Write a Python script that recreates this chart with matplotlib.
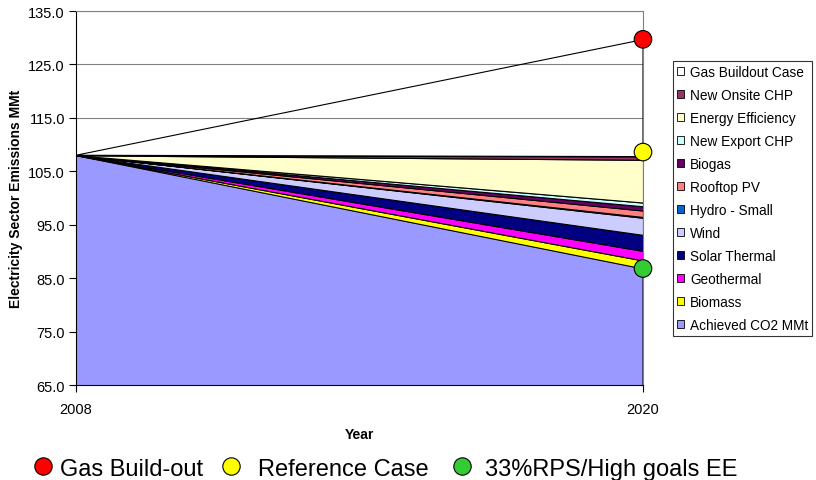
import matplotlib
matplotlib.use("Agg")
import matplotlib.pyplot as plt
from matplotlib.lines import Line2D
from matplotlib.patches import Patch

plt.rcParams['font.family'] = ['Liberation Sans', 'DejaVu Sans']

years = [2008, 2020]
# stacked layer increments (bottom to top) at 2008 and 2020
series_names = ["Achieved CO2 MMt", "Biomass", "Geothermal", "Solar Thermal", "Wind",
                "Hydro - Small", "Rooftop PV", "Biogas", "New Export CHP",
                "Energy Efficiency", "New Onsite CHP", "Gas Buildout Case"]
achieved = [108.0, 86.8]
biomass = [0.0, 1.5]
geothermal = [0.0, 1.8]
solar_thermal = [0.0, 3.0]
wind = [0.0, 3.2]
hydro_small = [0.0, 0.15]
rooftop_pv = [0.0, 1.2]
biogas = [0.0, 0.8]
new_export_chp = [0.0, 0.7]
energy_eff = [0.0, 8.0]
new_onsite_chp = [0.0, 0.6]
gas_buildout = [0.0, 21.9]

series_colors = ["#9999FF", "#FFFF00", "#FF00FF", "#000080", "#CCCCFF", "#0066CC",
                 "#FF8080", "#660066", "#CCFFFF", "#FFFFCC", "#993366", "#FFFFFF"]

scenario_names = ["Gas Build-out", "Reference Case", "33%RPS/High goals EE"]
scenario_values = [129.7, 108.6, 86.8]
scenario_colors = ["#FF0000", "#FFFF00", "#33CC33"]

y_ticks = [65.0, 75.0, 85.0, 95.0, 105.0, 115.0, 125.0, 135.0]

W, H = 816, 481
fig = plt.figure(figsize=(W/100, H/100), dpi=100)
ax = fig.add_axes([76/W, 1-386/H, (643-76)/W, (386-12)/H])

layers = [achieved, biomass, geothermal, solar_thermal, wind, hydro_small, rooftop_pv,
          biogas, new_export_chp, energy_eff, new_onsite_chp, gas_buildout]
polys = ax.stackplot(years, *layers, colors=series_colors, edgecolor="black",
                     linewidth=0.8, zorder=2)
polys[-1].set_facecolor("none")

ax.scatter([years[1]]*3, scenario_values, s=160, c=scenario_colors, edgecolors="black",
           linewidths=0.8, zorder=5, clip_on=False)

ax.set_xlim(2008, 2020)
ax.set_ylim(65, 135)
ax.set_yticks(y_ticks)
ax.set_yticklabels([f"{v:.1f}" for v in y_ticks], fontsize=10.5)
ax.set_xticks(years)
ax.set_xticklabels([str(y) for y in years], fontsize=10.5)
ax.tick_params(axis="x", length=5, width=0.8, pad=7)
ax.tick_params(axis="y", length=5, width=0.8, pad=3)
ax.yaxis.grid(True, color="#808080", linewidth=0.8, zorder=0)
ax.set_axisbelow(True)
for s in ["top", "right"]:
    ax.spines[s].set_color("#808080")
for s in ["left", "bottom"]:
    ax.spines[s].set_color("black")

ax.set_ylabel("Electricity Sector Emissions MMt", fontsize=10, fontweight="bold", labelpad=4)
ax.set_xlabel("Year", fontsize=10, fontweight="bold", labelpad=8)

handles = [Patch(facecolor=c, edgecolor="black", linewidth=0.6) for c in series_colors]
leg = fig.legend(handles[::-1], series_names[::-1], loc="upper left",
                 bbox_to_anchor=(673/W, 1-62/H), fontsize=9.8, frameon=True,
                 fancybox=False, edgecolor="black", handlelength=0.5, handleheight=0.5,
                 handletextpad=0.45, labelspacing=0.66, borderpad=0.3, borderaxespad=0)
leg.get_frame().set_linewidth(0.8)

# bottom scenario key
for name, col, cx, tx in zip(scenario_names, scenario_colors, [43, 231, 462], [60, 258, 485]):
    fig.add_artist(Line2D([cx/W], [1-467/H], marker="o", linestyle="none", markersize=12.5,
                          markerfacecolor=col, markeredgecolor="black", markeredgewidth=0.8,
                          transform=fig.transFigure))
    fig.text(tx/W, 1-476/H, name, fontsize=17, ha="left", va="baseline")

fig.savefig("out.png", dpi=100)
